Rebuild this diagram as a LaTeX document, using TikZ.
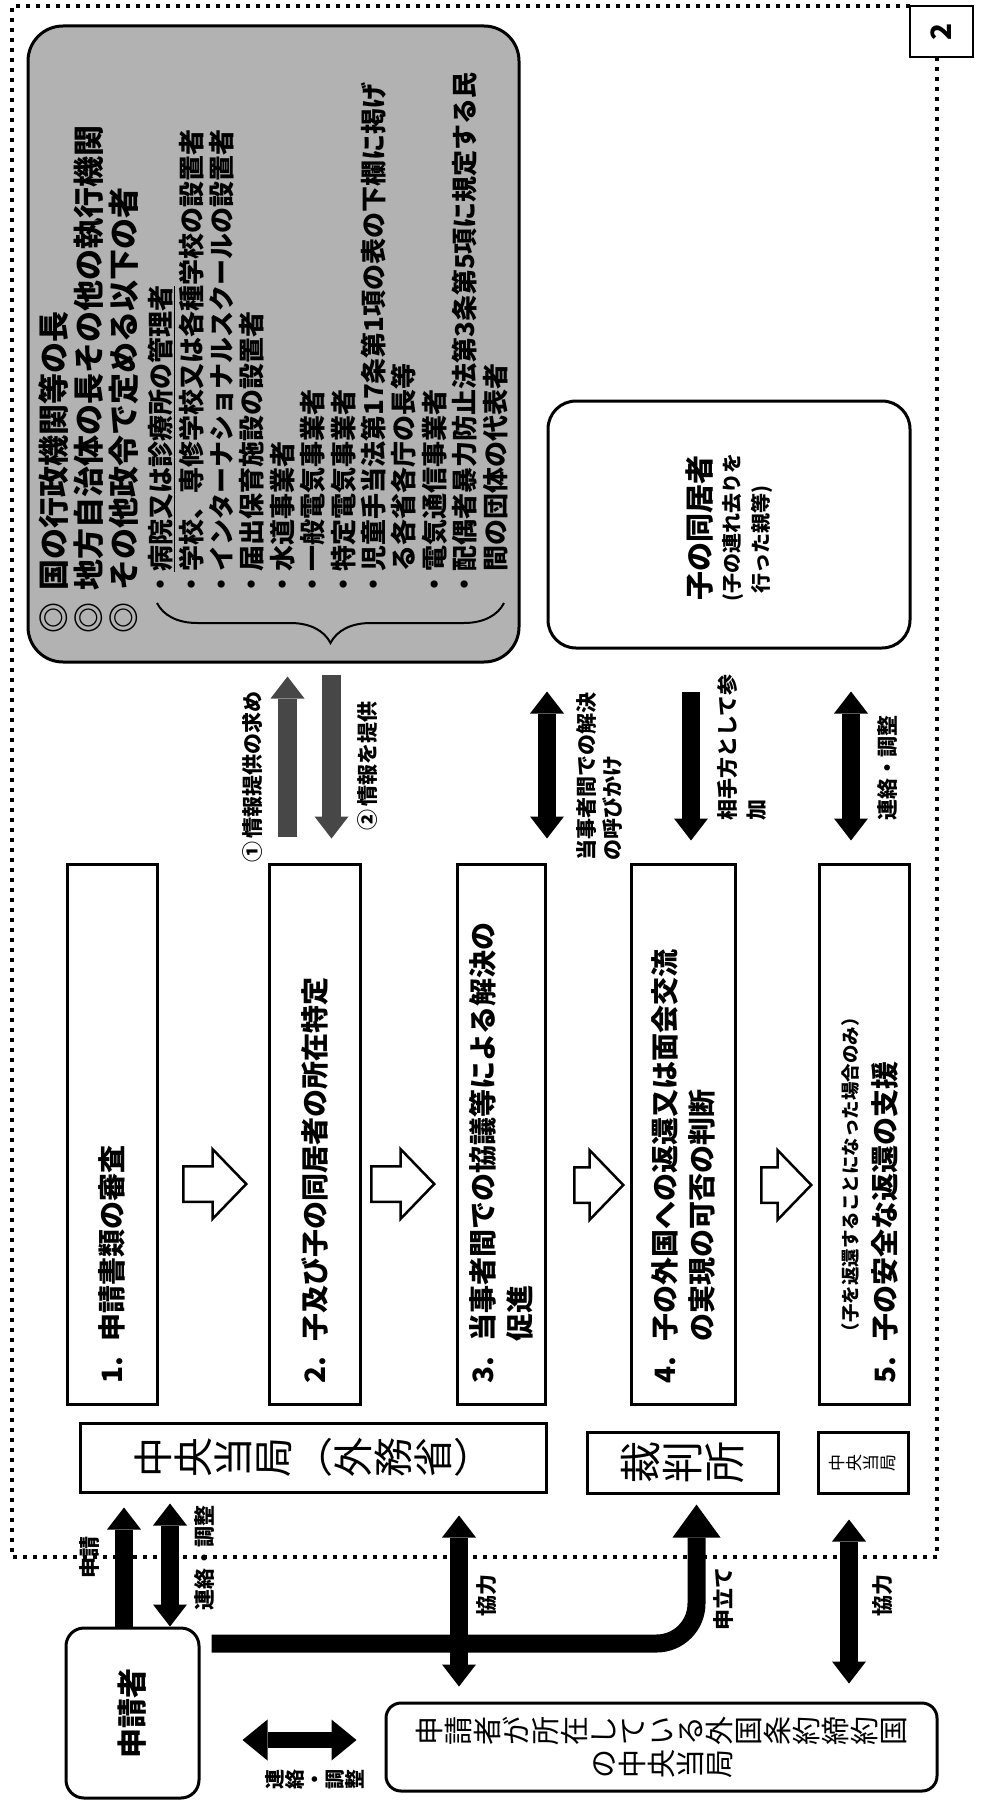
\documentclass[tikz,border=0pt]{standalone}
\usepackage{fontspec}
\setmainfont{Noto Sans CJK JP}
\usepackage{graphicx}
\usetikzlibrary{arrows.meta,shapes.arrows,decorations.pathreplacing}

% 縦書きの文字を一文字ずつ寝かせて並べる
\ExplSyntaxOn
\NewDocumentCommand\tatetext{m}
  {\tl_map_inline:nn {#1}
    {\makebox[1em]{\rotatebox[origin=c]{90}{\rule[-0.12em]{0pt}{1em}##1}}}}
\ExplSyntaxOff

\newcommand\jpfont[2]{\fontsize{#1}{#2}\selectfont}
\newcommand\stepno[1]{\makebox[1.5em][l]{#1}}

\begin{document}
\begin{tikzpicture}[x=1pt,y=-1pt,
    >={Triangle[width=34pt,length=22pt,line width=0pt]},
    box/.style={draw, line width=3pt, fill=white, inner sep=0pt},
    stepbox/.style={box, minimum height=540pt},
    roundbox/.style={box, rounded corners=#1},
    steptext/.style={rotate=90, anchor=west, align=left, inner sep=0pt, font=\jpfont{28}{37}\bfseries},
    note/.style={rotate=90, anchor=west, align=left, inner sep=0pt, font=\jpfont{21}{27}\bfseries},
    fat/.style={line width=18pt},
    greyfat/.style={line width=19pt, draw=black!72},
    flowarrow/.style={single arrow, draw, line width=2.5pt, fill=white, inner xsep=0pt, inner ysep=16.5pt,
      single arrow head extend=17pt, single arrow tip angle=92, anchor=tail},
    framedots/.style={line width=4pt, dash pattern=on 4pt off 6pt}]

  \useasboundingbox (0,0) rectangle (981,1803);

  % 点線の枠
  \draw[framedots] (910,6) -- (12,6) -- (12,1557) -- (937,1557) -- (937,58);
  \node[draw, line width=1.5pt, fill=white, rotate=90, minimum width=51pt, minimum height=63pt,
    inner sep=0pt, font=\jpfont{28}{30}\bfseries] (pagenum) at (941.5,31.5) {2};

  % 情報提供を求める相手
  \node[roundbox=35pt, fill=black!30, minimum width=491pt, minimum height=636pt] (info) at (273.5,344) {};
  \node[rotate=90, anchor=north west, align=left, inner sep=0pt, font=\jpfont{31}{35}\bfseries] (infoa) at (38,634)
    {◎\hspace{0.4em}国の行政機関等の長\\
     ◎\hspace{0.4em}地方自治体の長その他の執行機関\\
     ◎\hspace{0.4em}その他政令で定める以下の者};
  \node[rotate=90, anchor=north west, align=left, inner sep=0pt, font=\jpfont{26}{30.4}\bfseries] (infob) at (148,598)
    {・\underline{病院又は診療所の管理者}\\
     ・学校、専修学校又は各種学校の設置者\\
     ・インターナショナルスクールの設置者\\
     ・届出保育施設の設置者\\
     ・水道事業者\\
     ・一般電気事業者\\
     ・特定電気事業者\\
     ・児童手当法第17条第1項の表の下欄に掲げ\\
     \hspace*{1em}る各省各庁の長等\\
     ・電気通信事業者\\
     ・配偶者暴力防止法第3条第5項に規定する民\\
     \hspace*{1em}間の団体の代表者};
  \draw[decorate, decoration={brace, amplitude=40pt}, line width=2pt] (504,603) -- (157,603);

  % 子の同居者
  \node[roundbox=28pt, minimum width=362pt, minimum height=247pt] (taker) at (729,524.5) {};
  \node[rotate=90, anchor=west, inner sep=0pt, font=\jpfont{29}{33}\bfseries] (takert) at (700,601) {子の同居者};
  \node[rotate=90, anchor=west, align=left, inner sep=0pt, font=\jpfont{20}{29}\bfseries] (takenote) at (747.5,602)
    {(子の連れ去りを\\
     \phantom{(}行った親等)};

  % 手続の流れ
  \node[stepbox, minimum width=90pt] (s1) at (112,1134) {};
  \node[stepbox, minimum width=91pt] (s2) at (314.5,1134) {};
  \node[stepbox, minimum width=88pt] (s3) at (501,1134) {};
  \node[stepbox, minimum width=104pt] (s4) at (683,1134) {};
  \node[stepbox, minimum width=90pt] (s5) at (864,1134) {};
  \node[steptext] (s1t) at ([yshift=22pt]s1.south) {\stepno{1.}申請書類の審査};
  \node[steptext] (s2t) at ([yshift=22pt]s2.south) {\stepno{2.}子及び子の同居者の所在特定};
  \node[steptext] (s3t) at ([yshift=22pt]s3.south) {\stepno{3.}当事者間での協議等による解決の\\
    \hspace*{1.5em}促進};
  \node[steptext] (s4t) at ([yshift=22pt]s4.south) {\stepno{4.}子の外国への返還又は面会交流\\
    \hspace*{1.5em}の実現の可否の判断};
  \node[steptext] (s5t) at ([xshift=21pt,yshift=22pt]s5.south) {\stepno{5.}子の安全な返還の支援};
  \node[steptext, font=\jpfont{18.5}{22}\bfseries] (s5note) at ([xshift=-14pt,yshift=64pt]s5.south)
    {（子を返還することになった場合のみ）};

  \node[flowarrow, minimum height=63pt] (f1) at (182,1184) {};
  \node[flowarrow, minimum height=63pt] (f2) at (370,1184) {};
  \node[flowarrow, minimum height=49pt] (f3) at (573,1185) {};
  \node[flowarrow, minimum height=50pt] (f4) at (760,1185) {};

  % 当局と裁判所
  \node[box, minimum width=466pt, minimum height=69pt, font=\jpfont{40}{44}] (ca) at (313,1457.5)
    {\tatetext{中央当局}（\tatetext{外務省}）};
  \node[box, minimum width=191pt, minimum height=61pt, font=\jpfont{42}{44}] (court) at (682.5,1462.5) {\tatetext{裁判所}};
  \node[box, minimum width=90pt, minimum height=61pt, font=\jpfont{17}{20}] (ca2) at (863,1462.5) {\tatetext{中央当局}};

  % 申請者と外国の中央当局
  \node[roundbox=18pt, minimum width=133pt, minimum height=170pt] (appl) at (132.5,1713) {};
  \node[rotate=90, inner sep=0pt, font=\jpfont{30}{32}\bfseries] (applt) at (appl) {申請者};
  \node[roundbox=15pt, minimum width=551pt, minimum height=88pt, align=center, font=\jpfont{29}{33}] (fca) at (661.5,1747)
    {\tatetext{申請者が所在している外国条約締約国}\\
     \tatetext{の中央当局}};

  % 矢印
  \draw[greyfat, ->, shorten <=26pt, shorten >=13pt] ([xshift=-27pt]s2.north) -- ([xshift=-27pt]s2.north |- info.south);
  \draw[greyfat, ->, shorten <=11pt, shorten >=24pt] ([xshift=17pt]s2.north |- info.south) -- ([xshift=17pt]s2.north);
  \draw[fat, <->, shorten <=24pt, shorten >=42pt] ([xshift=46pt]s3.north) -- ([xshift=46pt]s3.north |- taker.south);
  \draw[fat, ->, shorten <=42pt, shorten >=22pt] ([xshift=8pt]s4.north |- taker.south) -- ([xshift=8pt]s4.north);
  \draw[fat, <->, shorten <=42pt, shorten >=22pt] ([xshift=-13pt]s5.north |- taker.south) -- ([xshift=-13pt]s5.north);

  \draw[fat, ->, shorten >=14pt] ([xshift=-8.5pt]appl.north) -- ([xshift=-8.5pt]appl.north |- ca.south);
  \draw[fat, <->, shorten >=10pt] ([xshift=37.5pt]appl.north) -- ([xshift=37.5pt]appl.north |- ca.south);
  \draw[fat, <->, shorten <=22pt, shorten >=15pt] ([xshift=146pt]ca.south) -- ([xshift=146pt]ca.south |- fca.north);
  \draw[fat, <->, shorten <=25pt, shorten >=18pt] ([xshift=-14pt]ca2.south) -- ([xshift=-14pt]ca2.south |- fca.north);
  \draw[fat, -{Triangle[width=48pt,length=33pt,line width=0pt]}, rounded corners=40pt, shorten >=10pt]
    ([xshift=11pt,yshift=-17pt]appl.north east) -| ([xshift=14pt]court.south);
  \draw[line width=16pt, {Triangle[width=41pt,length=25pt,line width=0pt]}-{Triangle[width=41pt,length=25pt,line width=0pt]},
    shorten <=28pt, shorten >=42pt] ([yshift=7pt]fca.west) -- ([yshift=7pt]fca.west -| appl.east);

  % 矢印の説明
  \node[note] (askl) at (252,863) {①\,情報提供の求め};
  \node[note] (givel) at (368,831) {②\,情報を提供};
  \node[note, font=\jpfont{21}{26}\bfseries] (calll) at (600,861) {当事者間での解決\\の呼びかけ};
  \node[note, font=\jpfont{21}{29}\bfseries] (joinl) at (742,821) {相手方として参\\加};
  \node[note] (liaisonl) at (888,821) {連絡・調整};
  \node[note] (applyl) at (90,1579) {申請};
  \node[note] (liaison2l) at (205,1611) {連絡・調整};
  \node[note] (coopl) at (487,1617) {協力};
  \node[note] (petitionl) at (724,1631) {申立て};
  \node[note] (coop2l) at (883,1617) {協力};
  \node[inner sep=0pt, font=\jpfont{20}{22}\bfseries] (liaison3l) at (315,1779) {\tatetext{連絡・調整}};
\end{tikzpicture}
\end{document}
